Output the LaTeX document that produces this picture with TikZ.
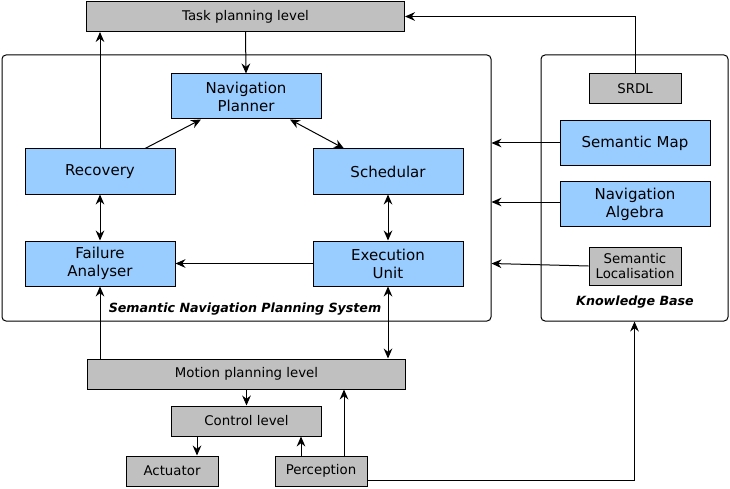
\documentclass[tikz,border=0pt]{standalone}
\usepackage{fontspec}
\setmainfont{DejaVu Sans}
\usetikzlibrary{arrows.meta, positioning}

\definecolor{boxblue}{RGB}{153,204,255}
\definecolor{boxgrey}{RGB}{192,192,192}

\begin{document}
\begin{tikzpicture}[
    x=0.75pt, y=-0.75pt,
    bluebox/.style={rectangle, draw, line width=0.75pt, fill=boxblue, inner sep=0pt, minimum width=112.5pt, minimum height=33.75pt, align=center, font=\fontsize{11.25}{13.5}\selectfont},
    greybox/.style={rectangle, draw, line width=0.75pt, fill=boxgrey, inner sep=0pt, minimum height=22.5pt, align=center, font=\fontsize{10}{11}\selectfont},
    frame/.style={rectangle, draw, line width=0.75pt, rounded corners=3pt, inner sep=0pt},
    title/.style={font=\fontsize{9.5}{11}\selectfont\bfseries\itshape},
    arrow/.style={-{Stealth[length=7.5pt, width=6.5pt, inset=2.5pt]}, line width=0.75pt},
    dblarrow/.style={{Stealth[length=7.5pt, width=6.5pt, inset=2.5pt]}-{Stealth[length=7.5pt, width=6.5pt, inset=2.5pt]}, line width=0.75pt}
]
\useasboundingbox (0,0) rectangle (730,488);

% Nodes (Define all nodes first)
% Upper level
\node[greybox, minimum width=238.5pt] (task) at (245.5,16.5) {Task planning level};

% Semantic Navigation Planning System
\node[frame, minimum width=366.75pt, minimum height=199.5pt] (snps) at (246.5,188) {};
\node[title] (snps_label) at (245,309.5) {Semantic Navigation Planning System};
\node[bluebox] (nav_planner) at (246,96.5) {Navigation\\Planner};
\node[bluebox] (recovery) at (100,171.5) {Recovery};
\node[bluebox, right=102.75pt of recovery] (schedular) {Schedular};
\node[bluebox, below=34.5pt of recovery] (failure) {Failure\\Analyser};
\node[bluebox, below=34.5pt of schedular] (execution) {Execution\\Unit};

% Knowledge Base
\node[frame, minimum width=140.25pt, minimum height=199.5pt] (kb) at (634.5,188) {};
\node[title] (kb_label) at (635,302.5) {Knowledge Base};
\node[greybox, minimum width=69pt] (srdl) at (635,89) {SRDL};
\node[bluebox] (sem_map) at (635,143) {Semantic Map};
\node[bluebox] (nav_algebra) at (635,204) {Navigation\\Algebra};
\node[greybox, minimum width=69pt, minimum height=28.5pt] (sem_loc) at (635,266) {Semantic\\Localisation};

% Lower levels
\node[greybox, minimum width=238.5pt] (motion) at (246.5,374) {Motion planning level};
\node[greybox, minimum width=112.5pt, below=12pt of motion] (control) {Control level};
\node[greybox, minimum width=69pt] (actuator) at (172,471) {Actuator};
\node[greybox, minimum width=69pt] (perception) at (321,471) {Perception};

% Arrows
\draw[arrow] (recovery.north) -- (recovery.north |- task.south);
\draw[arrow] (task.south) -- (nav_planner.north);
\draw[arrow] ([xshift=33.75pt]recovery.north) -- ([xshift=-33.75pt]nav_planner.south);
\draw[dblarrow] ([xshift=33pt]nav_planner.south) -- ([xshift=-33pt]schedular.north);
\draw[dblarrow] (recovery) -- (failure);
\draw[dblarrow] (schedular) -- (execution);
\draw[arrow] (execution) -- (failure);
\draw[arrow] (failure.south |- motion.north) -- (failure.south);
\draw[dblarrow] (execution.south) -- (execution.south |- motion.north);
\draw[arrow] (motion) -- (control);
\draw[arrow] ([xshift=18.75pt]actuator.north |- control.south) -- ([xshift=18.75pt]actuator.north);
\draw[arrow] ([xshift=-15pt]perception.north) -- ([xshift=-15pt]perception.north |- control.south);
\draw[arrow] ([xshift=17.25pt]perception.north) -- ([xshift=17.25pt]perception.north |- motion.south);

% Knowledge base links
\draw[arrow] (srdl.north) |- (task.east);
\draw[arrow] (sem_map.west) -- (sem_map.west -| snps.east);
\draw[arrow] ([yshift=1.5pt]nav_algebra.west) -- ([yshift=1.5pt]nav_algebra.west -| snps.east);
\draw[arrow] (sem_loc.west) -- (snps.east |- execution.east);
\draw[arrow] ([yshift=-6.75pt]perception.east) -| (kb.south);

\end{tikzpicture}
\end{document}
